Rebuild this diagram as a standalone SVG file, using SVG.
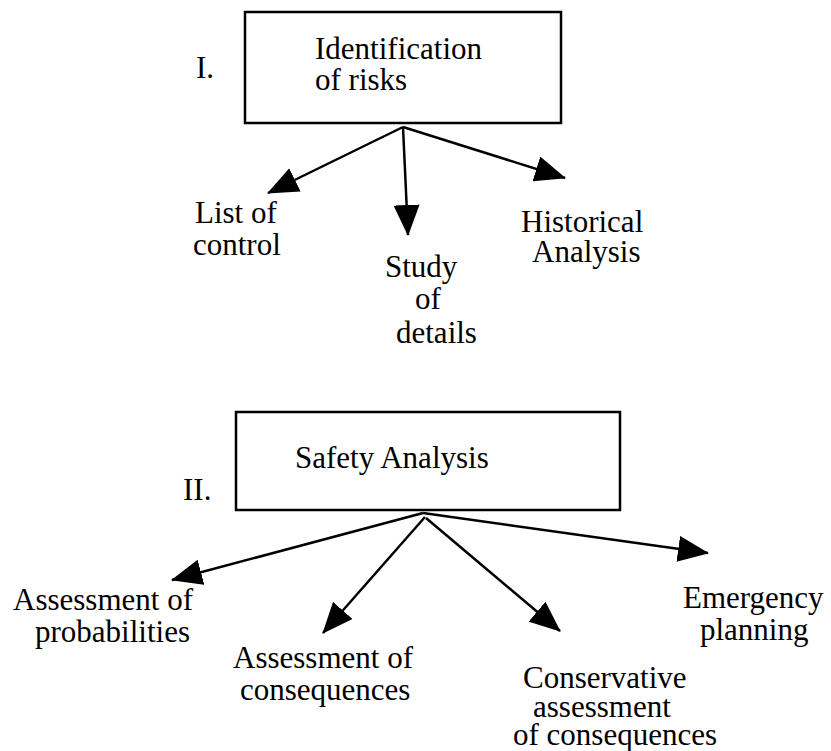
<svg xmlns="http://www.w3.org/2000/svg" width="831" height="751" viewBox="0 0 831 751">
<style>
text{font-family:'Liberation Serif','Times New Roman',serif;font-size:31px;fill:#000}
.box{fill:#fff;stroke:#000;stroke-width:2.5}
.conn line{stroke:#000;stroke-width:2.5;marker-end:url(#ah)}
</style>
<defs>
<marker id="ah" markerUnits="userSpaceOnUse" markerWidth="31" markerHeight="26" refX="30" refY="13" orient="auto">
<path d="M0,0 L31,13 L0,26 z" fill="#000"/>
</marker>
</defs>
<rect width="831" height="751" fill="#fff"/>
<g id="node-identification">
<rect class="box" x="245" y="12" width="316" height="111"/>
<text x="315" y="59">Identification</text>
<text x="315" y="90">of risks</text>
</g>
<text x="196" y="78">I.</text>
<g id="node-list"><text x="195" y="223">List of</text><text x="193" y="255">control</text></g>
<g id="node-study"><text x="385" y="277">Study</text><text x="415" y="309">of</text><text x="396" y="343">details</text></g>
<g id="node-historical"><text x="521" y="232">Historical</text><text x="532" y="262">Analysis</text></g>
<g id="node-safety">
<rect class="box" x="236" y="412" width="384" height="98"/>
<text x="295" y="468">Safety Analysis</text>
</g>
<text x="183" y="500">II.</text>
<g id="node-prob"><text x="13" y="610">Assessment of</text><text x="35" y="642">probabilities</text></g>
<g id="node-cons"><text x="233" y="668">Assessment of</text><text x="240" y="700">consequences</text></g>
<g id="node-conservative"><text x="523" y="688">Conservative</text><text x="533" y="717">assessment</text><text x="513" y="745">of consequences</text></g>
<g id="node-emergency"><text x="683" y="608">Emergency</text><text x="700" y="640">planning</text></g>
<g class="conn" id="connectors">
<line x1="403" y1="127" x2="268" y2="193"/>
<line x1="403" y1="127" x2="408" y2="235"/>
<line x1="403" y1="127" x2="565" y2="178"/>
<line x1="423" y1="513" x2="172" y2="580"/>
<line x1="425" y1="517" x2="323" y2="633"/>
<line x1="426" y1="518" x2="560" y2="631"/>
<line x1="423" y1="513" x2="708" y2="553"/>
</g>
</svg>
